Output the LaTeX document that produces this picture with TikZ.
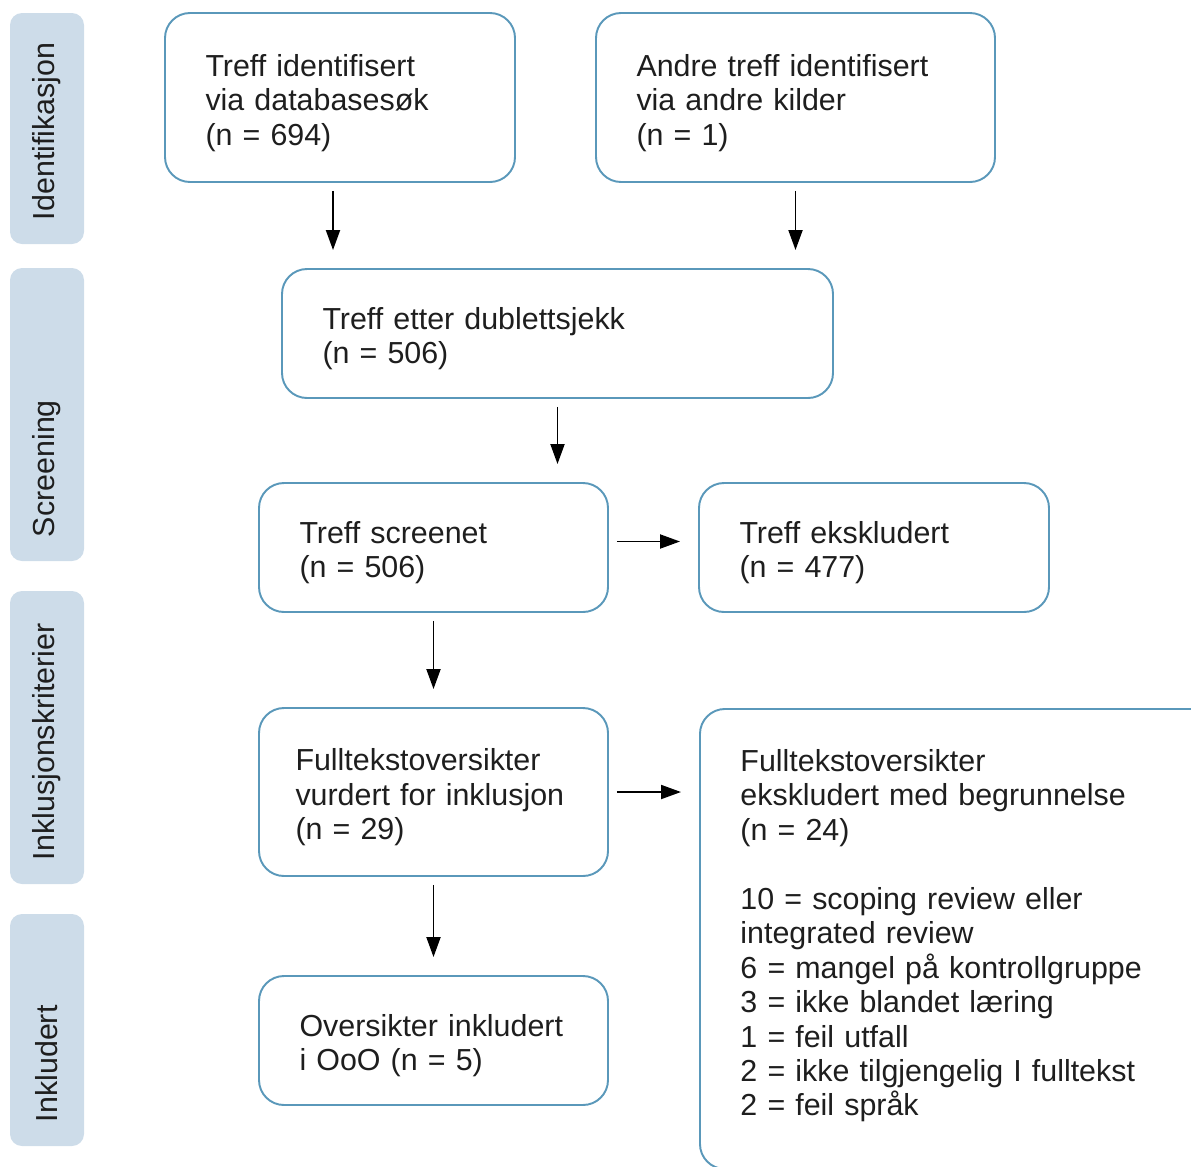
\documentclass[tikz,border=0pt]{standalone}
\usepackage{fontspec}
\setmainfont{Liberation Sans}
\usetikzlibrary{arrows.meta}

\definecolor{boxline}{RGB}{90,152,186}
\definecolor{phasefill}{RGB}{205,220,233}
\definecolor{textgrey}{RGB}{30,30,30}

\begin{document}
\begin{tikzpicture}[
    stepbox/.style = {draw=boxline, line width=1.1pt, rounded corners=0.5cm, align=left,
                      inner xsep=0.81cm, inner ysep=0.3cm, text height=0.65cm, text=textgrey,
                      font=\fontsize{17.3}{19.6}\selectfont},
    phase/.style = {fill=phasefill, rounded corners=0.24cm, rotate=90, minimum height=1.48cm,
                    inner xsep=0.48cm, inner ysep=0pt, align=left, text=textgrey,
                    font=\fontsize{17.3}{19}\selectfont},
    arr/.style = {-{Triangle[length=0.4cm, width=0.28cm]}, line width=1.1pt,
                  shorten <=0.16cm, shorten >=0.36cm},
  ]

% Fix the page size
\useasboundingbox (0, 0) rectangle (23.82, -23.32);

% Phase labels down the left side
\node[phase, minimum width=4.62cm, text width=3.66cm] (identification) at (0.94, -2.57) {Identifikasjon};
\node[phase, minimum width=5.86cm, text width=4.9cm] (screening) at (0.94, -8.29) {Screening};
\node[phase, minimum width=5.86cm, text width=4.9cm] (eligibility) at (0.94, -14.75) {Inklusjonskriterier};
\node[phase, minimum width=4.64cm, text width=3.68cm] (included) at (0.94, -20.6) {Inkludert};

% Identification boxes
\node[stepbox, text width=5.38cm, minimum height=3.38cm] (database) at (6.8, -1.95)
  {Treff identifisert\\via databasesøk\\(n = 694)};
\node[stepbox, text width=6.36cm, minimum height=3.38cm] (othersrc) at (15.91, -1.95)
  {Andre treff identifisert\\via andre kilder\\(n = 1)};

% Screening boxes
\node[stepbox, text width=9.4cm, minimum height=2.58cm] (dedup) at (11.15, -6.67)
  {Treff etter dublettsjekk\\(n = 506)};
\node[stepbox, text width=5.36cm, minimum height=2.58cm] (screened) at (8.67, -10.95)
  {Treff screenet\\(n = 506)};
\node[stepbox, text width=5.38cm, minimum height=2.58cm] (excluded) at (17.48, -10.95)
  {Treff ekskludert\\(n = 477)};

% Eligibility boxes
\node[stepbox, text width=5.52cm, inner xsep=0.73cm, minimum height=3.36cm] (fulltext) at (8.67, -15.84)
  {Fulltekstoversikter\\vurdert for inklusjon\\(n = 29)};
\node[stepbox, text width=9.18cm, anchor=north west, inner ysep=0.6cm, text depth=7.35cm] (ftexcluded) at (13.98, -14.16)
  {Fulltekstoversikter\\ekskludert med begrunnelse\\(n = 24)\\[19.6pt]
   10 = scoping review eller\\integrated review\\6 = mangel på kontrollgruppe\\
   3 = ikke blandet læring\\1 = feil utfall\\2 = ikke tilgjengelig I fulltekst\\2 = feil språk};

% Included box
\node[stepbox, text width=5.36cm, minimum height=2.58cm] (final) at (8.67, -20.81)
  {Oversikter inkludert\\i OoO (n = 5)};

% Arrows between the boxes
\draw[arr] ([xshift=-0.14cm]database.south) -- ([xshift=-0.14cm]database.south |- dedup.north);
\draw[arr] (othersrc.south) -- (othersrc.south |- dedup.north);
\draw[arr] (dedup.south) -- (dedup.south |- screened.north);
\draw[arr] ([yshift=0.12cm]screened.east) -- ([yshift=0.12cm]screened.east -| excluded.west);
\draw[arr] (screened.south) -- (fulltext.north);
\draw[arr] (fulltext.east) -- (fulltext.east -| ftexcluded.west);
\draw[arr] (fulltext.south) -- (final.north);

\end{tikzpicture}
\end{document}
